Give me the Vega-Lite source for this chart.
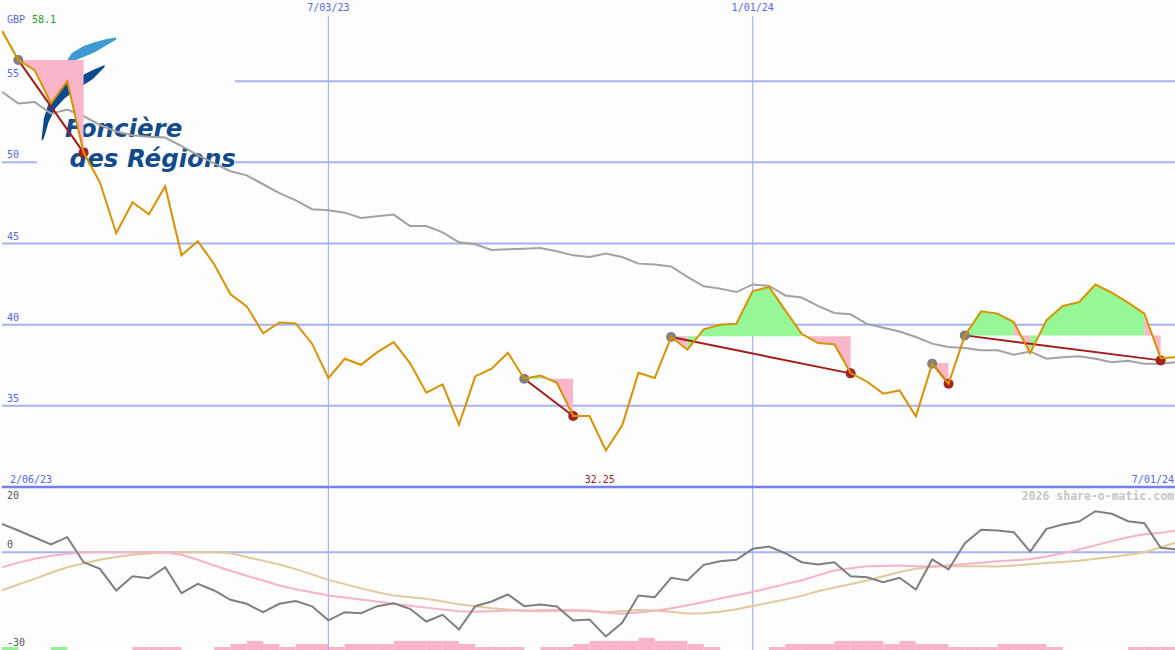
{
  "$schema": "https://vega.github.io/schema/vega-lite/v6.json",
  "background": "#fcfdfc",
  "padding": 0,
  "spacing": 0,
  "bounds": "flush",
  "config": {"view": {"stroke": null}},
  "resolve": {"scale": {"color": "independent"}},
  "datasets": {
    "w": [
      {"d":"2023-02-13","p":58.1,"ma":54.34,"o":8.7,"pk":-4.6,"tn":-11.7},
      {"d":"2023-02-20","p":56.3,"ma":53.62,"o":6.65,"pk":-3.2,"tn":-9.9},
      {"d":"2023-02-27","p":55.68,"ma":53.72,"o":4.5,"pk":-2.0,"tn":-8.2},
      {"d":"2023-03-06","p":53.64,"ma":53.0,"o":2.36,"pk":-1.1,"tn":-6.3},
      {"d":"2023-03-13","p":55.0,"ma":53.25,"o":4.6,"pk":-0.5,"tn":-4.6},
      {"d":"2023-03-20","p":50.6,"ma":52.84,"o":-3.07,"pk":-0.1,"tn":-3.4},
      {"d":"2023-03-27","p":48.77,"ma":52.3,"o":-5.1,"pk":0,"tn":-2.3},
      {"d":"2023-04-03","p":45.63,"ma":51.9,"o":-11.75,"pk":0,"tn":-1.5},
      {"d":"2023-04-10","p":47.54,"ma":51.67,"o":-7.36,"pk":0,"tn":-0.8},
      {"d":"2023-04-17","p":46.8,"ma":51.57,"o":-7.98,"pk":0,"tn":-0.4},
      {"d":"2023-04-24","p":48.53,"ma":51.53,"o":-4.6,"pk":-0.1,"tn":-0.1},
      {"d":"2023-05-01","p":44.27,"ma":51.0,"o":-12.58,"pk":-0.8,"tn":0},
      {"d":"2023-05-08","p":45.14,"ma":50.44,"o":-9.7,"pk":-2.3,"tn":0},
      {"d":"2023-05-15","p":43.72,"ma":49.94,"o":-11.75,"pk":-4.1,"tn":0},
      {"d":"2023-05-22","p":41.87,"ma":49.45,"o":-14.6,"pk":-5.7,"tn":-0.3},
      {"d":"2023-05-29","p":41.13,"ma":49.2,"o":-15.83,"pk":-7.2,"tn":-1.5},
      {"d":"2023-06-05","p":39.46,"ma":48.65,"o":-18.4,"pk":-8.7,"tn":-2.6},
      {"d":"2023-06-12","p":40.14,"ma":48.1,"o":-15.83,"pk":-10.2,"tn":-3.8},
      {"d":"2023-06-19","p":40.08,"ma":47.66,"o":-15.0,"pk":-11.4,"tn":-5.2},
      {"d":"2023-06-26","p":38.83,"ma":47.11,"o":-16.6,"pk":-12.3,"tn":-6.8},
      {"d":"2023-07-03","p":36.71,"ma":47.05,"o":-20.9,"pk":-13.3,"tn":-8.5},
      {"d":"2023-07-10","p":37.9,"ma":46.9,"o":-18.4,"pk":-13.9,"tn":-9.8},
      {"d":"2023-07-17","p":37.53,"ma":46.57,"o":-18.7,"pk":-14.5,"tn":-11.1},
      {"d":"2023-07-24","p":38.31,"ma":46.68,"o":-16.56,"pk":-15.1,"tn":-12.3},
      {"d":"2023-07-31","p":38.93,"ma":46.78,"o":-15.64,"pk":-15.8,"tn":-13.3},
      {"d":"2023-08-07","p":37.63,"ma":46.08,"o":-17.36,"pk":-16.4,"tn":-13.8},
      {"d":"2023-08-14","p":35.81,"ma":46.08,"o":-21.26,"pk":-17.0,"tn":-14.3},
      {"d":"2023-08-21","p":36.32,"ma":45.69,"o":-19.2,"pk":-17.6,"tn":-15.1},
      {"d":"2023-08-28","p":33.84,"ma":45.07,"o":-23.7,"pk":-18.1,"tn":-16.0},
      {"d":"2023-09-04","p":36.81,"ma":44.95,"o":-16.56,"pk":-18.3,"tn":-16.6},
      {"d":"2023-09-11","p":37.29,"ma":44.6,"o":-15.12,"pk":-18.1,"tn":-17.2},
      {"d":"2023-09-18","p":38.27,"ma":44.64,"o":-12.98,"pk":-17.9,"tn":-17.6},
      {"d":"2023-09-25","p":36.67,"ma":44.67,"o":-16.56,"pk":-17.9,"tn":-18.0},
      {"d":"2023-10-02","p":36.87,"ma":44.72,"o":-16.04,"pk":-17.8,"tn":-18.1},
      {"d":"2023-10-09","p":36.42,"ma":44.52,"o":-16.66,"pk":-17.7,"tn":-18.0},
      {"d":"2023-10-16","p":34.37,"ma":44.27,"o":-20.95,"pk":-17.8,"tn":-17.9},
      {"d":"2023-10-23","p":34.37,"ma":44.17,"o":-20.64,"pk":-17.9,"tn":-18.1},
      {"d":"2023-10-30","p":32.25,"ma":44.38,"o":-25.86,"pk":-18.5,"tn":-18.4},
      {"d":"2023-11-06","p":33.79,"ma":44.17,"o":-21.66,"pk":-18.9,"tn":-18.0},
      {"d":"2023-11-13","p":37.04,"ma":43.76,"o":-13.28,"pk":-18.5,"tn":-17.7},
      {"d":"2023-11-20","p":36.71,"ma":43.7,"o":-13.8,"pk":-18.0,"tn":-17.9},
      {"d":"2023-11-27","p":39.24,"ma":43.59,"o":-7.85,"pk":-17.2,"tn":-18.3},
      {"d":"2023-12-04","p":38.46,"ma":42.94,"o":-8.68,"pk":-16.3,"tn":-18.8},
      {"d":"2023-12-11","p":39.71,"ma":42.36,"o":-3.87,"pk":-15.3,"tn":-18.7},
      {"d":"2023-12-18","p":40.0,"ma":42.22,"o":-2.76,"pk":-14.2,"tn":-18.3},
      {"d":"2023-12-25","p":40.06,"ma":42.01,"o":-2.33,"pk":-13.2,"tn":-17.5},
      {"d":"2024-01-01","p":42.07,"ma":42.48,"o":1.04,"pk":-12.2,"tn":-16.5},
      {"d":"2024-01-08","p":42.32,"ma":42.39,"o":1.75,"pk":-11.0,"tn":-15.5},
      {"d":"2024-01-15","p":40.88,"ma":41.8,"o":-0.31,"pk":-9.8,"tn":-14.5},
      {"d":"2024-01-22","p":39.44,"ma":41.67,"o":-3.07,"pk":-8.6,"tn":-13.4},
      {"d":"2024-01-29","p":38.87,"ma":41.16,"o":-3.77,"pk":-7.1,"tn":-12.0},
      {"d":"2024-02-05","p":38.79,"ma":40.72,"o":-3.07,"pk":-5.6,"tn":-10.8},
      {"d":"2024-02-12","p":37.02,"ma":40.64,"o":-7.36,"pk":-4.9,"tn":-9.8},
      {"d":"2024-02-19","p":36.5,"ma":40.05,"o":-7.67,"pk":-4.3,"tn":-8.7},
      {"d":"2024-02-26","p":35.75,"ma":39.81,"o":-9.2,"pk":-4.2,"tn":-7.4},
      {"d":"2024-03-04","p":35.95,"ma":39.58,"o":-7.85,"pk":-4.1,"tn":-6.1},
      {"d":"2024-03-11","p":34.35,"ma":39.24,"o":-11.44,"pk":-4.3,"tn":-5.1},
      {"d":"2024-03-18","p":37.6,"ma":38.83,"o":-2.24,"pk":-4.4,"tn":-4.5},
      {"d":"2024-03-25","p":36.36,"ma":38.62,"o":-5.3,"pk":-4.0,"tn":-4.3},
      {"d":"2024-04-01","p":39.34,"ma":38.56,"o":2.76,"pk":-3.6,"tn":-4.3},
      {"d":"2024-04-08","p":40.82,"ma":38.42,"o":6.87,"pk":-3.2,"tn":-4.3},
      {"d":"2024-04-15","p":40.68,"ma":38.42,"o":6.66,"pk":-2.8,"tn":-4.4},
      {"d":"2024-04-22","p":40.16,"ma":38.15,"o":6.13,"pk":-2.5,"tn":-4.1},
      {"d":"2024-04-29","p":38.25,"ma":38.35,"o":0.21,"pk":-2.1,"tn":-3.7},
      {"d":"2024-05-06","p":40.27,"ma":37.9,"o":7.18,"pk":-1.3,"tn":-3.3},
      {"d":"2024-05-13","p":41.15,"ma":38.0,"o":8.5,"pk":-0.3,"tn":-3.0},
      {"d":"2024-05-20","p":41.39,"ma":38.06,"o":9.42,"pk":0.8,"tn":-2.6},
      {"d":"2024-05-27","p":42.47,"ma":37.9,"o":12.58,"pk":2.1,"tn":-2.0},
      {"d":"2024-06-03","p":41.97,"ma":37.69,"o":11.78,"pk":3.4,"tn":-1.5},
      {"d":"2024-06-10","p":41.36,"ma":37.77,"o":9.5,"pk":4.6,"tn":-0.8},
      {"d":"2024-06-17","p":40.68,"ma":37.6,"o":8.9,"pk":5.5,"tn":-0.1},
      {"d":"2024-06-24","p":37.94,"ma":37.6,"o":1.35,"pk":6.0,"tn":1.5},
      {"d":"2024-07-01","p":38.0,"ma":37.69,"o":0.83,"pk":6.7,"tn":3.1}
    ],
    "a": [
      {"g":"A","c":"p","d":"2023-02-20","v":56.3,"v2":56.3},
      {"g":"A","c":"p","d":"2023-02-27","v":56.3,"v2":55.68},
      {"g":"A","c":"p","d":"2023-03-06","v":56.3,"v2":53.64},
      {"g":"A","c":"p","d":"2023-03-13","v":56.3,"v2":55.0},
      {"g":"A","c":"p","d":"2023-03-20","v":56.3,"v2":50.6},
      {"g":"B","c":"g","d":"2023-09-25","v":36.67,"v2":36.67},
      {"g":"B","c":"g","d":"2023-10-02","v":36.67,"v2":36.87},
      {"g":"C","c":"p","d":"2023-10-02","v":36.67,"v2":36.87},
      {"g":"C","c":"p","d":"2023-10-09","v":36.67,"v2":36.42},
      {"g":"C","c":"p","d":"2023-10-16","v":36.67,"v2":34.37},
      {"g":"D","c":"p","d":"2023-11-27","v":39.28,"v2":39.24},
      {"g":"D","c":"p","d":"2023-12-04","v":39.28,"v2":38.46},
      {"g":"E","c":"g","d":"2023-12-04","v":39.28,"v2":38.46},
      {"g":"E","c":"g","d":"2023-12-11","v":39.28,"v2":39.71},
      {"g":"E","c":"g","d":"2023-12-18","v":39.28,"v2":40.0},
      {"g":"E","c":"g","d":"2023-12-25","v":39.28,"v2":40.06},
      {"g":"E","c":"g","d":"2024-01-01","v":39.28,"v2":42.07},
      {"g":"E","c":"g","d":"2024-01-08","v":39.28,"v2":42.32},
      {"g":"E","c":"g","d":"2024-01-15","v":39.28,"v2":40.88},
      {"g":"E","c":"g","d":"2024-01-22","v":39.28,"v2":39.44},
      {"g":"F","c":"p","d":"2024-01-22","v":39.28,"v2":39.44},
      {"g":"F","c":"p","d":"2024-01-29","v":39.28,"v2":38.87},
      {"g":"F","c":"p","d":"2024-02-05","v":39.28,"v2":38.79},
      {"g":"F","c":"p","d":"2024-02-12","v":39.28,"v2":37.02},
      {"g":"G","c":"p","d":"2024-03-18","v":37.64,"v2":37.6},
      {"g":"G","c":"p","d":"2024-03-25","v":37.64,"v2":36.36},
      {"g":"H","c":"g","d":"2024-04-01","v":39.34,"v2":39.34},
      {"g":"H","c":"g","d":"2024-04-08","v":39.34,"v2":40.82},
      {"g":"H","c":"g","d":"2024-04-15","v":39.34,"v2":40.68},
      {"g":"H","c":"g","d":"2024-04-22","v":39.34,"v2":40.16},
      {"g":"I","c":"p","d":"2024-04-22","v":39.34,"v2":40.16},
      {"g":"I","c":"p","d":"2024-04-29","v":39.34,"v2":38.25},
      {"g":"J","c":"g","d":"2024-04-29","v":39.34,"v2":38.25},
      {"g":"J","c":"g","d":"2024-05-06","v":39.34,"v2":40.27},
      {"g":"J","c":"g","d":"2024-05-13","v":39.34,"v2":41.15},
      {"g":"J","c":"g","d":"2024-05-20","v":39.34,"v2":41.39},
      {"g":"J","c":"g","d":"2024-05-27","v":39.34,"v2":42.47},
      {"g":"J","c":"g","d":"2024-06-03","v":39.34,"v2":41.97},
      {"g":"J","c":"g","d":"2024-06-10","v":39.34,"v2":41.36},
      {"g":"J","c":"g","d":"2024-06-17","v":39.34,"v2":40.68},
      {"g":"K","c":"p","d":"2024-06-17","v":39.34,"v2":40.68},
      {"g":"K","c":"p","d":"2024-06-24","v":39.34,"v2":37.94}
    ],
    "sl": [
      {"g":"L1","k":"s","d":"2023-02-20","v":56.3},
      {"g":"L1","k":"e","d":"2023-03-20","v":50.6},
      {"g":"L2","k":"s","d":"2023-09-25","v":36.67},
      {"g":"L2","k":"e","d":"2023-10-16","v":34.37},
      {"g":"L3","k":"s","d":"2023-11-27","v":39.24},
      {"g":"L3","k":"e","d":"2024-02-12","v":37.0},
      {"g":"L4","k":"s","d":"2024-03-18","v":37.6},
      {"g":"L4","k":"e","d":"2024-03-25","v":36.36},
      {"g":"L5","k":"s","d":"2024-04-01","v":39.34},
      {"g":"L5","k":"e","d":"2024-06-24","v":37.8}
    ],
    "gh": [
      {"v":55,"d":"2023-05-24","d2":"2024-07-01"},
      {"v":50,"d":"2023-02-13","d2":"2023-02-28"},
      {"v":50,"d":"2023-05-24","d2":"2024-07-01"},
      {"v":45,"d":"2023-02-13","d2":"2024-07-01"},
      {"v":40,"d":"2023-02-13","d2":"2024-07-01"},
      {"v":35,"d":"2023-02-13","d2":"2024-07-01"}
    ],
    "logo": [
      {"s":"l","d":"2023-03-13","v":56.3,"v2":56.12},
      {"s":"l","d":"2023-03-15","v":56.74,"v2":56.21},
      {"s":"l","d":"2023-03-20","v":57.17,"v2":56.49},
      {"s":"l","d":"2023-03-25","v":57.41,"v2":56.8},
      {"s":"l","d":"2023-03-30","v":57.6,"v2":57.23},
      {"s":"l","d":"2023-04-03","v":57.69,"v2":57.57},
      {"s":"d","d":"2023-03-02","v":51.5,"v2":51.31},
      {"s":"d","d":"2023-03-03","v":52.73,"v2":51.5},
      {"s":"d","d":"2023-03-05","v":53.65,"v2":52.48},
      {"s":"d","d":"2023-03-08","v":54.27,"v2":53.35},
      {"s":"d","d":"2023-03-12","v":54.76,"v2":53.96},
      {"s":"d","d":"2023-03-18","v":55.26,"v2":54.58},
      {"s":"d","d":"2023-03-24","v":55.69,"v2":55.13},
      {"s":"d","d":"2023-03-29","v":56.0,"v2":55.87}
    ],
    "bars": [
      {"d":"2023-02-13","d2":"2023-02-20","h":1,"c":"g"},
      {"d":"2023-03-06","d2":"2023-03-13","h":1,"c":"g"},
      {"d":"2023-04-10","d2":"2023-04-17","h":1,"c":"p"},
      {"d":"2023-04-17","d2":"2023-04-24","h":1,"c":"p"},
      {"d":"2023-04-24","d2":"2023-05-01","h":1,"c":"p"},
      {"d":"2023-05-15","d2":"2023-05-22","h":1,"c":"p"},
      {"d":"2023-05-22","d2":"2023-05-29","h":2,"c":"p"},
      {"d":"2023-05-29","d2":"2023-06-05","h":3,"c":"p"},
      {"d":"2023-06-05","d2":"2023-06-12","h":2,"c":"p"},
      {"d":"2023-06-12","d2":"2023-06-19","h":1,"c":"p"},
      {"d":"2023-06-19","d2":"2023-06-26","h":2,"c":"p"},
      {"d":"2023-06-26","d2":"2023-07-03","h":2,"c":"p"},
      {"d":"2023-07-03","d2":"2023-07-10","h":1,"c":"p"},
      {"d":"2023-07-10","d2":"2023-07-17","h":2,"c":"p"},
      {"d":"2023-07-17","d2":"2023-07-24","h":2,"c":"p"},
      {"d":"2023-07-24","d2":"2023-07-31","h":2,"c":"p"},
      {"d":"2023-07-31","d2":"2023-08-07","h":3,"c":"p"},
      {"d":"2023-08-07","d2":"2023-08-14","h":3,"c":"p"},
      {"d":"2023-08-14","d2":"2023-08-21","h":3,"c":"p"},
      {"d":"2023-08-21","d2":"2023-08-28","h":3,"c":"p"},
      {"d":"2023-08-28","d2":"2023-09-04","h":2,"c":"p"},
      {"d":"2023-09-04","d2":"2023-09-11","h":1,"c":"p"},
      {"d":"2023-09-11","d2":"2023-09-18","h":1,"c":"p"},
      {"d":"2023-09-18","d2":"2023-09-25","h":1,"c":"p"},
      {"d":"2023-10-02","d2":"2023-10-09","h":1,"c":"p"},
      {"d":"2023-10-09","d2":"2023-10-16","h":1,"c":"p"},
      {"d":"2023-10-16","d2":"2023-10-23","h":2,"c":"p"},
      {"d":"2023-10-23","d2":"2023-10-30","h":3,"c":"p"},
      {"d":"2023-10-30","d2":"2023-11-06","h":3,"c":"p"},
      {"d":"2023-11-06","d2":"2023-11-13","h":3,"c":"p"},
      {"d":"2023-11-13","d2":"2023-11-20","h":4,"c":"p"},
      {"d":"2023-11-20","d2":"2023-11-27","h":3,"c":"p"},
      {"d":"2023-11-27","d2":"2023-12-04","h":3,"c":"p"},
      {"d":"2023-12-04","d2":"2023-12-11","h":2,"c":"p"},
      {"d":"2023-12-11","d2":"2023-12-18","h":1,"c":"p"},
      {"d":"2024-01-08","d2":"2024-01-15","h":1,"c":"p"},
      {"d":"2024-01-15","d2":"2024-01-22","h":2,"c":"p"},
      {"d":"2024-01-22","d2":"2024-01-29","h":2,"c":"p"},
      {"d":"2024-01-29","d2":"2024-02-05","h":2,"c":"p"},
      {"d":"2024-02-05","d2":"2024-02-12","h":3,"c":"p"},
      {"d":"2024-02-12","d2":"2024-02-19","h":3,"c":"p"},
      {"d":"2024-02-19","d2":"2024-02-26","h":3,"c":"p"},
      {"d":"2024-02-26","d2":"2024-03-04","h":2,"c":"p"},
      {"d":"2024-03-04","d2":"2024-03-11","h":3,"c":"p"},
      {"d":"2024-03-11","d2":"2024-03-18","h":2,"c":"p"},
      {"d":"2024-03-18","d2":"2024-03-25","h":2,"c":"p"},
      {"d":"2024-03-25","d2":"2024-04-01","h":1,"c":"p"},
      {"d":"2024-04-01","d2":"2024-04-08","h":1,"c":"p"},
      {"d":"2024-04-08","d2":"2024-04-15","h":1,"c":"p"},
      {"d":"2024-04-15","d2":"2024-04-22","h":2,"c":"p"},
      {"d":"2024-04-22","d2":"2024-04-29","h":2,"c":"p"},
      {"d":"2024-04-29","d2":"2024-05-06","h":2,"c":"p"},
      {"d":"2024-05-06","d2":"2024-05-13","h":1,"c":"p"},
      {"d":"2024-06-10","d2":"2024-06-17","h":1,"c":"p"},
      {"d":"2024-06-17","d2":"2024-06-24","h":1,"c":"p"},
      {"d":"2024-06-24","d2":"2024-07-01","h":1,"c":"p"}
    ]
  },
  "vconcat": [
    {
      "width": 1175,
      "height": 487,
      "resolve": {"scale": {"color": "independent"}},
      "layer": [
        {
          "data": {"name": "gh"},
          "mark": {"type": "rule", "color": "#a6b2f4", "strokeWidth": 2},
          "encoding": {
            "x": {"field": "d", "type": "temporal", "axis": null, "scale": {"domain": [{"year": 2023, "month": 2, "date": 13, "utc": true}, {"year": 2024, "month": 7, "date": 1, "utc": true}]}},
            "x2": {"field": "d2"},
            "y": {"field": "v", "type": "quantitative", "axis": null, "scale": {"domain": [30, 60], "nice": false, "zero": false}}
          }
        },
        {
          "data": {"values": [{"d": "2023-07-03", "v": 59.0, "v2": 30}, {"d": "2024-01-01", "v": 59.0, "v2": 30}]},
          "mark": {"type": "rule", "color": "#a6b2f4", "strokeWidth": 1.2},
          "encoding": {
            "x": {"field": "d", "type": "temporal", "axis": null, "scale": {"domain": [{"year": 2023, "month": 2, "date": 13, "utc": true}, {"year": 2024, "month": 7, "date": 1, "utc": true}]}},
            "y": {"field": "v", "type": "quantitative", "axis": null, "scale": {"domain": [30, 60], "nice": false, "zero": false}},
            "y2": {"field": "v2"}
          }
        },
        {
          "data": {"values": [{"d": "2023-02-13", "v": 55, "t": "55"}, {"d": "2023-02-13", "v": 50, "t": "50"}, {"d": "2023-02-13", "v": 45, "t": "45"}, {"d": "2023-02-13", "v": 40, "t": "40"}, {"d": "2023-02-13", "v": 35, "t": "35"}]},
          "mark": {"type": "text", "font": "DejaVu Sans Mono", "fontSize": 10, "color": "#5566ee", "align": "left", "baseline": "bottom", "dx": 5, "dy": -2},
          "encoding": {
            "x": {"field": "d", "type": "temporal", "axis": null, "scale": {"domain": [{"year": 2023, "month": 2, "date": 13, "utc": true}, {"year": 2024, "month": 7, "date": 1, "utc": true}]}},
            "y": {"field": "v", "type": "quantitative", "axis": null, "scale": {"domain": [30, 60], "nice": false, "zero": false}},
            "text": {"field": "t"}
          }
        },
        {
          "data": {"name": "logo"},
          "mark": {"type": "area", "opacity": 1},
          "encoding": {
            "x": {"field": "d", "type": "temporal", "axis": null, "scale": {"domain": [{"year": 2023, "month": 2, "date": 13, "utc": true}, {"year": 2024, "month": 7, "date": 1, "utc": true}]}},
            "y": {"field": "v", "type": "quantitative", "axis": null, "scale": {"domain": [30, 60], "nice": false, "zero": false}},
            "y2": {"field": "v2"},
            "detail": {"field": "s"},
            "color": {"field": "s", "type": "nominal", "legend": null, "scale": {"domain": ["l", "d"], "range": ["#3d9ad3", "#0b4a8f"]}}
          }
        },
        {
          "data": {"values": [{"d": "2023-03-12", "v": 51.56, "t": "Foncière"}, {"d": "2023-03-14", "v": 49.71, "t": "des Régions"}]},
          "mark": {"type": "text", "font": "DejaVu Sans", "fontStyle": "italic", "fontWeight": "bold", "fontSize": 24.5, "color": "#124a8c", "align": "left", "baseline": "alphabetic"},
          "encoding": {
            "x": {"field": "d", "type": "temporal", "axis": null, "scale": {"domain": [{"year": 2023, "month": 2, "date": 13, "utc": true}, {"year": 2024, "month": 7, "date": 1, "utc": true}]}},
            "y": {"field": "v", "type": "quantitative", "axis": null, "scale": {"domain": [30, 60], "nice": false, "zero": false}},
            "text": {"field": "t"}
          }
        },
        {
          "data": {"name": "w"},
          "mark": {"type": "line", "color": "#a2a2a2", "strokeWidth": 2, "clip": true},
          "encoding": {
            "x": {"field": "d", "type": "temporal", "axis": null, "scale": {"domain": [{"year": 2023, "month": 2, "date": 13, "utc": true}, {"year": 2024, "month": 7, "date": 1, "utc": true}]}},
            "y": {"field": "ma", "type": "quantitative", "axis": null, "scale": {"domain": [30, 60], "nice": false, "zero": false}}
          }
        },
        {
          "data": {"name": "a"},
          "mark": {"type": "area", "opacity": 1},
          "encoding": {
            "x": {"field": "d", "type": "temporal", "axis": null, "scale": {"domain": [{"year": 2023, "month": 2, "date": 13, "utc": true}, {"year": 2024, "month": 7, "date": 1, "utc": true}]}},
            "y": {"field": "v", "type": "quantitative", "axis": null, "scale": {"domain": [30, 60], "nice": false, "zero": false}},
            "y2": {"field": "v2"},
            "detail": {"field": "g"},
            "color": {"field": "c", "type": "nominal", "legend": null, "scale": {"domain": ["p", "g"], "range": ["#f9b5ca", "#95f795"]}}
          }
        },
        {
          "data": {"name": "sl"},
          "mark": {"type": "line", "color": "#a31c1c", "strokeWidth": 2},
          "encoding": {
            "x": {"field": "d", "type": "temporal", "axis": null, "scale": {"domain": [{"year": 2023, "month": 2, "date": 13, "utc": true}, {"year": 2024, "month": 7, "date": 1, "utc": true}]}},
            "y": {"field": "v", "type": "quantitative", "axis": null, "scale": {"domain": [30, 60], "nice": false, "zero": false}},
            "detail": {"field": "g"}
          }
        },
        {
          "data": {"name": "sl"},
          "mark": {"type": "circle", "size": 100, "opacity": 1},
          "encoding": {
            "x": {"field": "d", "type": "temporal", "axis": null, "scale": {"domain": [{"year": 2023, "month": 2, "date": 13, "utc": true}, {"year": 2024, "month": 7, "date": 1, "utc": true}]}},
            "y": {"field": "v", "type": "quantitative", "axis": null, "scale": {"domain": [30, 60], "nice": false, "zero": false}},
            "color": {"field": "k", "type": "nominal", "legend": null, "scale": {"domain": ["s", "e"], "range": ["#808080", "#a32222"]}}
          }
        },
        {
          "data": {"name": "w"},
          "mark": {"type": "line", "color": "#d99200", "strokeWidth": 2, "clip": true},
          "encoding": {
            "x": {"field": "d", "type": "temporal", "axis": null, "scale": {"domain": [{"year": 2023, "month": 2, "date": 13, "utc": true}, {"year": 2024, "month": 7, "date": 1, "utc": true}]}},
            "y": {"field": "p", "type": "quantitative", "axis": null, "scale": {"domain": [30, 60], "nice": false, "zero": false}}
          }
        },
        {
          "data": {"values": [{"d": "2023-02-13", "v": 58.77, "t": "GBP"}]},
          "mark": {"type": "text", "font": "DejaVu Sans Mono", "fontSize": 10, "color": "#5566ee", "align": "left", "baseline": "middle", "dx": 5},
          "encoding": {
            "x": {"field": "d", "type": "temporal", "axis": null, "scale": {"domain": [{"year": 2023, "month": 2, "date": 13, "utc": true}, {"year": 2024, "month": 7, "date": 1, "utc": true}]}},
            "y": {"field": "v", "type": "quantitative", "axis": null, "scale": {"domain": [30, 60], "nice": false, "zero": false}},
            "text": {"field": "t"}
          }
        },
        {
          "data": {"values": [{"d": "2023-02-13", "v": 58.77, "t": "58.1"}]},
          "mark": {"type": "text", "font": "DejaVu Sans Mono", "fontSize": 10, "color": "#1f9e1f", "align": "left", "baseline": "middle", "dx": 30},
          "encoding": {
            "x": {"field": "d", "type": "temporal", "axis": null, "scale": {"domain": [{"year": 2023, "month": 2, "date": 13, "utc": true}, {"year": 2024, "month": 7, "date": 1, "utc": true}]}},
            "y": {"field": "v", "type": "quantitative", "axis": null, "scale": {"domain": [30, 60], "nice": false, "zero": false}},
            "text": {"field": "t"}
          }
        },
        {
          "data": {"values": [{"d": "2023-07-03", "v": 59.5, "t": "7/03/23"}, {"d": "2024-01-01", "v": 59.5, "t": "1/01/24"}]},
          "mark": {"type": "text", "font": "DejaVu Sans Mono", "fontSize": 10, "color": "#5566ee", "align": "center", "baseline": "middle"},
          "encoding": {
            "x": {"field": "d", "type": "temporal", "axis": null, "scale": {"domain": [{"year": 2023, "month": 2, "date": 13, "utc": true}, {"year": 2024, "month": 7, "date": 1, "utc": true}]}},
            "y": {"field": "v", "type": "quantitative", "axis": null, "scale": {"domain": [30, 60], "nice": false, "zero": false}},
            "text": {"field": "t"}
          }
        },
        {
          "data": {"values": [{"d": "2023-02-13", "v": 30, "t": "2/06/23"}]},
          "mark": {"type": "text", "font": "DejaVu Sans Mono", "fontSize": 10, "color": "#5566ee", "align": "left", "baseline": "bottom", "dx": 8, "dy": -2},
          "encoding": {
            "x": {"field": "d", "type": "temporal", "axis": null, "scale": {"domain": [{"year": 2023, "month": 2, "date": 13, "utc": true}, {"year": 2024, "month": 7, "date": 1, "utc": true}]}},
            "y": {"field": "v", "type": "quantitative", "axis": null, "scale": {"domain": [30, 60], "nice": false, "zero": false}},
            "text": {"field": "t"}
          }
        },
        {
          "data": {"values": [{"d": "2023-10-30", "v": 30, "t": "32.25"}]},
          "mark": {"type": "text", "font": "DejaVu Sans Mono", "fontSize": 10, "color": "#a31c1c", "align": "center", "baseline": "bottom", "dx": -6, "dy": -2},
          "encoding": {
            "x": {"field": "d", "type": "temporal", "axis": null, "scale": {"domain": [{"year": 2023, "month": 2, "date": 13, "utc": true}, {"year": 2024, "month": 7, "date": 1, "utc": true}]}},
            "y": {"field": "v", "type": "quantitative", "axis": null, "scale": {"domain": [30, 60], "nice": false, "zero": false}},
            "text": {"field": "t"}
          }
        },
        {
          "data": {"values": [{"d": "2024-07-01", "v": 30, "t": "7/01/24"}]},
          "mark": {"type": "text", "font": "DejaVu Sans Mono", "fontSize": 10, "color": "#5566ee", "align": "right", "baseline": "bottom", "dx": -3, "dy": -2},
          "encoding": {
            "x": {"field": "d", "type": "temporal", "axis": null, "scale": {"domain": [{"year": 2023, "month": 2, "date": 13, "utc": true}, {"year": 2024, "month": 7, "date": 1, "utc": true}]}},
            "y": {"field": "v", "type": "quantitative", "axis": null, "scale": {"domain": [30, 60], "nice": false, "zero": false}},
            "text": {"field": "t"}
          }
        }
      ]
    },
    {
      "width": 1175,
      "height": 163,
      "resolve": {"scale": {"y": "independent"}},
      "layer": [
        {
          "data": {"name": "bars"},
          "mark": {"type": "rect"},
          "encoding": {
            "x": {"field": "d", "type": "temporal", "axis": null, "scale": {"domain": [{"year": 2023, "month": 2, "date": 13, "utc": true}, {"year": 2024, "month": 7, "date": 1, "utc": true}]}},
            "x2": {"field": "d2"},
            "y": {"field": "h", "type": "quantitative", "axis": null, "scale": {"domain": [0, 54], "nice": false, "zero": true}},
            "y2": {"datum": 0},
            "color": {"field": "c", "type": "nominal", "legend": null, "scale": {"domain": ["p", "g"], "range": ["#f8b4c8", "#90f290"]}}
          }
        },
        {
          "layer": [
            {
              "data": {"values": [{"v": 0}]},
              "mark": {"type": "rule", "color": "#a6b2f4", "strokeWidth": 2},
              "encoding": {
                "y": {"field": "v", "type": "quantitative", "axis": null, "scale": {"domain": [-30, 20], "nice": false, "zero": false}}
              }
            },
            {
              "data": {"values": [{"d": "2023-07-03", "v": 20, "v2": -30}, {"d": "2024-01-01", "v": 20, "v2": -30}]},
              "mark": {"type": "rule", "color": "#a6b2f4", "strokeWidth": 1.2},
              "encoding": {
                "x": {"field": "d", "type": "temporal", "axis": null, "scale": {"domain": [{"year": 2023, "month": 2, "date": 13, "utc": true}, {"year": 2024, "month": 7, "date": 1, "utc": true}]}},
                "y": {"field": "v", "type": "quantitative", "axis": null, "scale": {"domain": [-30, 20], "nice": false, "zero": false}},
                "y2": {"field": "v2"}
              }
            },
            {
              "data": {"values": [{"v": 20}]},
              "mark": {"type": "rule", "color": "#7282ea", "strokeWidth": 2.5},
              "encoding": {
                "y": {"field": "v", "type": "quantitative", "axis": null, "scale": {"domain": [-30, 20], "nice": false, "zero": false}}
              }
            },
            {
              "data": {"values": [{"d": "2023-02-13", "v": 20, "t": "20"}]},
              "mark": {"type": "text", "font": "DejaVu Sans Mono", "fontSize": 10, "color": "#555555", "align": "left", "baseline": "top", "dx": 5, "dy": 4},
              "encoding": {
                "x": {"field": "d", "type": "temporal", "axis": null, "scale": {"domain": [{"year": 2023, "month": 2, "date": 13, "utc": true}, {"year": 2024, "month": 7, "date": 1, "utc": true}]}},
                "y": {"field": "v", "type": "quantitative", "axis": null, "scale": {"domain": [-30, 20], "nice": false, "zero": false}},
                "text": {"field": "t"}
              }
            },
            {
              "data": {"values": [{"d": "2023-02-13", "v": 0, "t": "0"}, {"d": "2023-02-13", "v": -30, "t": "-30"}]},
              "mark": {"type": "text", "font": "DejaVu Sans Mono", "fontSize": 10, "color": "#555555", "align": "left", "baseline": "bottom", "dx": 5, "dy": -2},
              "encoding": {
                "x": {"field": "d", "type": "temporal", "axis": null, "scale": {"domain": [{"year": 2023, "month": 2, "date": 13, "utc": true}, {"year": 2024, "month": 7, "date": 1, "utc": true}]}},
                "y": {"field": "v", "type": "quantitative", "axis": null, "scale": {"domain": [-30, 20], "nice": false, "zero": false}},
                "text": {"field": "t"}
              }
            },
            {
              "data": {"name": "w"},
              "mark": {"type": "line", "color": "#e2c99c", "strokeWidth": 2, "clip": true},
              "encoding": {
                "x": {"field": "d", "type": "temporal", "axis": null, "scale": {"domain": [{"year": 2023, "month": 2, "date": 13, "utc": true}, {"year": 2024, "month": 7, "date": 1, "utc": true}]}},
                "y": {"field": "tn", "type": "quantitative", "axis": null, "scale": {"domain": [-30, 20], "nice": false, "zero": false}}
              }
            },
            {
              "data": {"name": "w"},
              "mark": {"type": "line", "color": "#f8b2c8", "strokeWidth": 2, "clip": true},
              "encoding": {
                "x": {"field": "d", "type": "temporal", "axis": null, "scale": {"domain": [{"year": 2023, "month": 2, "date": 13, "utc": true}, {"year": 2024, "month": 7, "date": 1, "utc": true}]}},
                "y": {"field": "pk", "type": "quantitative", "axis": null, "scale": {"domain": [-30, 20], "nice": false, "zero": false}}
              }
            },
            {
              "data": {"name": "w"},
              "mark": {"type": "line", "color": "#7f7f7f", "strokeWidth": 2, "clip": true},
              "encoding": {
                "x": {"field": "d", "type": "temporal", "axis": null, "scale": {"domain": [{"year": 2023, "month": 2, "date": 13, "utc": true}, {"year": 2024, "month": 7, "date": 1, "utc": true}]}},
                "y": {"field": "o", "type": "quantitative", "axis": null, "scale": {"domain": [-30, 20], "nice": false, "zero": false}}
              }
            },
            {
              "data": {"values": [{"d": "2024-07-01", "v": 20, "t": "2026 share-o-matic.com"}]},
              "mark": {"type": "text", "font": "DejaVu Sans Mono", "fontSize": 11.5, "fontWeight": "bold", "color": "#c6c6c6", "align": "right", "baseline": "top", "dx": -3, "dy": 4},
              "encoding": {
                "x": {"field": "d", "type": "temporal", "axis": null, "scale": {"domain": [{"year": 2023, "month": 2, "date": 13, "utc": true}, {"year": 2024, "month": 7, "date": 1, "utc": true}]}},
                "y": {"field": "v", "type": "quantitative", "axis": null, "scale": {"domain": [-30, 20], "nice": false, "zero": false}},
                "text": {"field": "t"}
              }
            }
          ]
        }
      ]
    }
  ]
}
